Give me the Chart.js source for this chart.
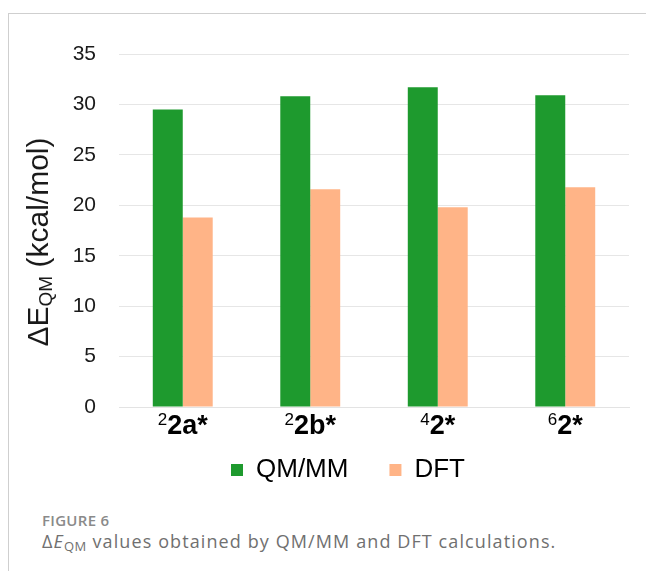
<!DOCTYPE html>
<html>
<head>
<meta charset="utf-8">
<script src="https://cdn.jsdelivr.net/npm/chart.js@4"></script>
<style>
  html, body { margin: 0; padding: 0; background: #fff; }
  body { width: 646px; height: 571px; position: relative; overflow: hidden; }
  .frame {
    position: absolute; left: 8px; top: 13px; right: 0; bottom: 0;
    border-top: 1px solid #cfcfcf; border-left: 1px solid #cfcfcf;
  }
  .chart-box { position: absolute; left: 9px; top: 15px; width: 637px; height: 478px; }
  .fig-label {
    position: absolute; left: 42px; top: 510px;
    font: 600 15px "Open Sans", sans-serif; color: #8a8a8a; letter-spacing: 0.3px;
  }
  .fig-caption {
    position: absolute; left: 42px; top: 529px;
    font: 18px "Open Sans", sans-serif; color: #707070; letter-spacing: 1.1px;
  }
  .fig-caption sub { font-size: 13px; vertical-align: -3px; letter-spacing: 0.5px; }
</style>
</head>
<body>
<div class="frame"></div>
<div class="chart-box"><canvas id="energyChart"></canvas></div>
<div class="fig-label">FIGURE 6</div>
<div class="fig-caption">Δ<i>E</i><sub>QM</sub> values obtained by QM/MM and DFT calculations.</div>

<script>
// Data
const spinStates = ['2', '2', '4', '6']
const species = ['2a*', '2b*', '2*', '2*']
const qmmmValues = [29.5, 30.8, 31.7, 30.9]
const dftValues = [18.8, 21.6, 19.8, 21.8]
const yTicks = [0, 5, 10, 15, 20, 25, 30, 35]

const labels = species.map((s, i) => spinStates[i] + s)
const baseFont = '"Liberation Sans", Arial, sans-serif'

// y axis title with subscript
const yTitlePlugin = {
  id: 'yTitle',
  afterDraw(chart) {
    const ctx = chart.ctx
    const parts = [
      { text: 'ΔE', font: '30px ' + baseFont, dy: 0 },
      { text: 'QM', font: '19px ' + baseFont, dy: 7 },
      { text: ' (kcal/mol)', font: '30px ' + baseFont, dy: 0 }
    ]
    ctx.save()
    ctx.translate(31, 227)
    ctx.rotate(-Math.PI / 2)
    ctx.fillStyle = '#1a1a1a'
    ctx.textBaseline = 'middle'
    let total = 0
    parts.forEach((p) => {
      ctx.font = p.font
      p.w = ctx.measureText(p.text).width
      total += p.w
    })
    let x = -total / 2
    parts.forEach((p) => {
      ctx.font = p.font
      ctx.fillText(p.text, x, p.dy)
      x += p.w
    })
    ctx.restore()
  }
}

// category labels with superscript spin state
const xLabelPlugin = {
  id: 'xLabels',
  afterDraw(chart) {
    const ctx = chart.ctx
    const xScale = chart.scales.x
    ctx.save()
    ctx.fillStyle = '#000'
    ctx.textBaseline = 'alphabetic'
    ctx.textAlign = 'left'
    labels.forEach((_, i) => {
      const cx = xScale.getPixelForValue(i)
      ctx.font = '17px ' + baseFont
      const supW = ctx.measureText(spinStates[i]).width
      ctx.font = 'bold 27px ' + baseFont
      const mainW = ctx.measureText(species[i]).width
      const start = cx - (supW + mainW) / 2
      ctx.font = '17px ' + baseFont
      ctx.fillText(spinStates[i], start, chart.chartArea.bottom + 18)
      ctx.font = 'bold 27px ' + baseFont
      ctx.fillText(species[i], start + supW, chart.chartArea.bottom + 27)
    })
    ctx.restore()
  }
}

const ctx = document.getElementById('energyChart').getContext('2d')
new Chart(ctx, {
  type: 'bar',
  data: {
    labels: labels,
    datasets: [
      {
        label: 'QM/MM',
        data: qmmmValues,
        backgroundColor: '#1e9a2e',
        categoryPercentage: 0.47,
        barPercentage: 1.0
      },
      {
        label: 'DFT',
        data: dftValues,
        backgroundColor: '#ffb487',
        categoryPercentage: 0.47,
        barPercentage: 1.0
      }
    ]
  },
  options: {
    responsive: true,
    maintainAspectRatio: false,
    animation: false,
    layout: {
      padding: { left: 58, right: 17, top: 39, bottom: 0 }
    },
    plugins: {
      tooltip: { enabled: false },
      legend: {
        position: 'bottom',
        labels: {
          boxWidth: 12,
          boxHeight: 12,
          padding: 41,
          color: '#000',
          font: { family: baseFont, size: 26 }
        }
      }
    },
    scales: {
      x: {
        grid: { display: false, drawTicks: false },
        border: { display: true, color: '#e3e3e3' },
        ticks: { display: false },
        afterFit(scale) { scale.height = 9 }
      },
      y: {
        min: 0,
        max: 35,
        afterBuildTicks(scale) {
          scale.ticks = yTicks.map((v) => ({ value: v }))
        },
        afterFit(scale) { scale.width = 52 },
        grid: { color: '#e6e6e6', drawTicks: false },
        border: { display: false },
        ticks: {
          padding: 23,
          color: '#1a1a1a',
          font: { family: baseFont, size: 21 }
        }
      }
    }
  },
  plugins: [yTitlePlugin, xLabelPlugin]
})
</script>
</body>
</html>
